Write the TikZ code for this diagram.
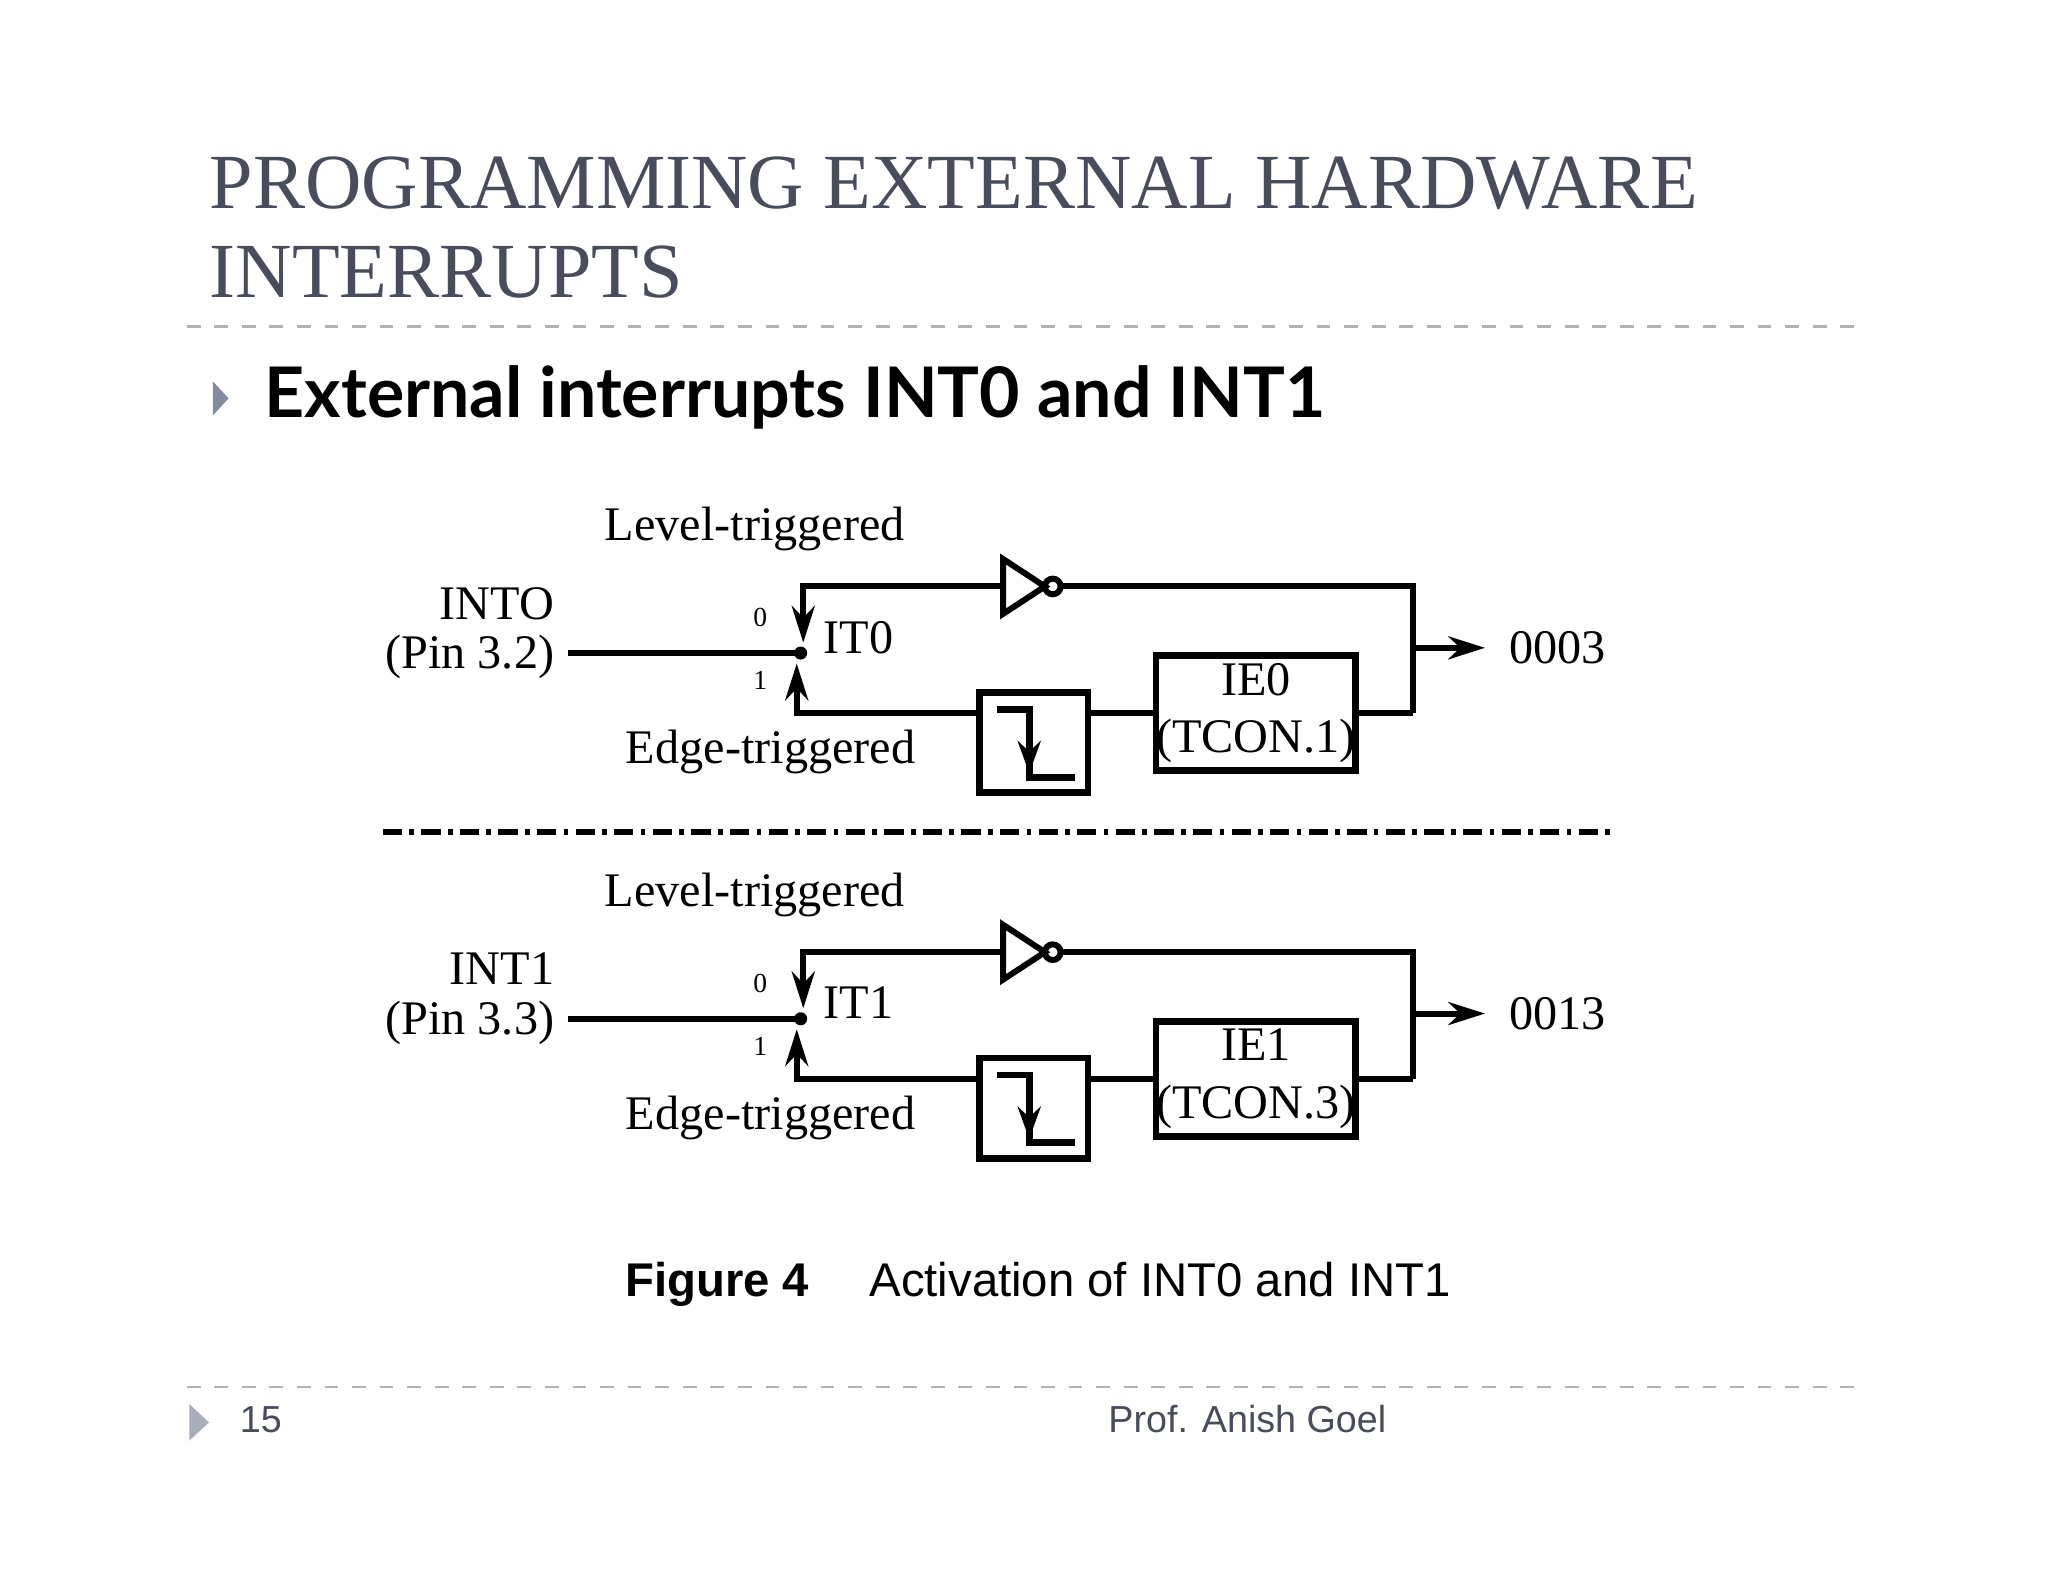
\documentclass[tikz,border=0pt]{standalone}
\usepackage{fontspec}
\setmainfont{Liberation Serif}
\newfontfamily\hsans{Lato}
\newfontfamily\asans{Liberation Sans}
\usetikzlibrary{arrows.meta}
\definecolor{ttl}{RGB}{72,76,92}
\definecolor{tri}{RGB}{130,140,160}
\begin{document}
\begin{tikzpicture}[x=0.01cm,y=-0.01cm,
  wire/.style={line width=1.3pt},
  arr/.style={-{Stealth[length=8pt,width=5pt]}},
  blk/.style={draw,line width=1.5pt,inner sep=0pt},
  ctext/.style={font=\fontsize{10.5}{12.5}\selectfont},
  small/.style={font=\fontsize{6}{7}\selectfont}]
\useasboundingbox (0,0) rectangle (1568,1211);
% title
\node[anchor=base west,text=ttl,font=\fontsize{17}{20}\selectfont,inner sep=0] (t1) at (160,160) {PROGRAMMING EXTERNAL HARDWARE};
\node[anchor=base west,text=ttl,font=\fontsize{17}{20}\selectfont,inner sep=0] (t2) at (160,228) {INTERRUPTS};
\draw[gray!60,dashed,line width=0.6pt] (143,250) -- (1427,250);
\fill[tri] (163,292) -- (175,305) -- (163,318) -- cycle;
\node[anchor=base west,font=\hsans\bfseries\fontsize{15.2}{18}\selectfont,inner sep=0] (h) at (202,320) {External interrupts INT0 and INT1};
% circuits
\foreach \o/\n/\pin/\itn/\ie/\tc/\addr in {0/INTO/3.2/IT0/IE0/TCON.1/0003, 280/INT1/3.3/IT1/IE1/TCON.3/0013}{
  \begin{scope}[yshift=-\o*0.01cm]
  \node[ctext] (lv\o) at (578,405) {Level-triggered};
  \node[ctext,anchor=base east,inner sep=0] (nm\o) at (425,474) {\n};
  \node[ctext,anchor=base east,inner sep=0] (pn\o) at (425,512) {(Pin \pin)};
  \coordinate (in\o) at (435,500);
  \coordinate (dot\o) at (613,500);
  \fill (dot\o) circle (5);
  \draw[wire] (in\o) -- (dot\o);
  \node[small] (z\o) at (582,473) {0};
  \node[small] (u\o) at (582,521) {1};
  \node[ctext,anchor=base west,inner sep=0] (it\o) at (630,500) {\itn};
  % inverter
  \draw[line width=1.3pt] (768,428) -- (800,449) -- (768,470) -- cycle;
  \draw[line width=1.3pt] (806,449) circle (6);
  \coordinate (invin\o) at (768,449);
  \coordinate (invout\o) at (812,449);
  \coordinate (tr\o) at (1082,449);
  \coordinate (br\o) at (1082,546);
  \draw[wire,arr] (invin\o) -- (615,449) -- (615,492);
  \draw[wire] (invout\o) -- (tr\o) -- (br\o);
  \draw[wire,arr] (1082,496) -- (1137,496);
  \node[ctext,anchor=base west,inner sep=0] (ad\o) at (1155,508) {\addr};
  % boxes
  \node[blk,minimum width=1.47cm,minimum height=0.88cm,align=center,ctext] (ie\o) at (961.5,546) {\ie\\(\tc)};
  \node[blk,minimum width=0.83cm,minimum height=0.77cm] (ed\o) at (791.5,568.5) {};
  \draw[line width=1.5pt] (763,543) -- (788,543) -- (788,595) -- (823,595);
  \draw[line width=1.3pt,-{Stealth[length=7pt,width=5pt]}] (788,560) -- (788,592);
  \draw[wire] (ie\o.east) -- (br\o);
  \draw[wire] (ed\o.east |- 0,546) -- (ie\o.west);
  \draw[wire,arr] (ed\o.west |- 0,546) -- (610,546) -- (610,508);
  \node[ctext] (eg\o) at (590,576) {Edge-triggered};
  \end{scope}
}
\draw[line width=1.4pt,dash pattern=on 4.2pt off 1.6pt on 1pt off 1.6pt] (293,637) -- (1233,637);
% caption
\node[anchor=base west,font=\asans\bfseries\fontsize{10.3}{12}\selectfont,inner sep=0] (fg) at (478,993) {Figure 4};
\node[anchor=base west,font=\asans\fontsize{10.3}{12}\selectfont,inner sep=0] (cp) at (665,993) {Activation of INT0 and INT1};
% footer
\draw[gray!60,dashed,line width=0.6pt] (143,1062) -- (1427,1062);
\fill[tri!70] (145,1075) -- (160,1089) -- (145,1103) -- cycle;
\node[anchor=base west,font=\asans\fontsize{8.2}{10}\selectfont,text=ttl,inner sep=0] (pg) at (183,1097) {15};
\node[anchor=base,font=\asans\fontsize{8.2}{10}\selectfont,text=ttl,inner sep=0] (pr) at (955,1097) {Prof. Anish Goel};
\end{tikzpicture}
\end{document}
